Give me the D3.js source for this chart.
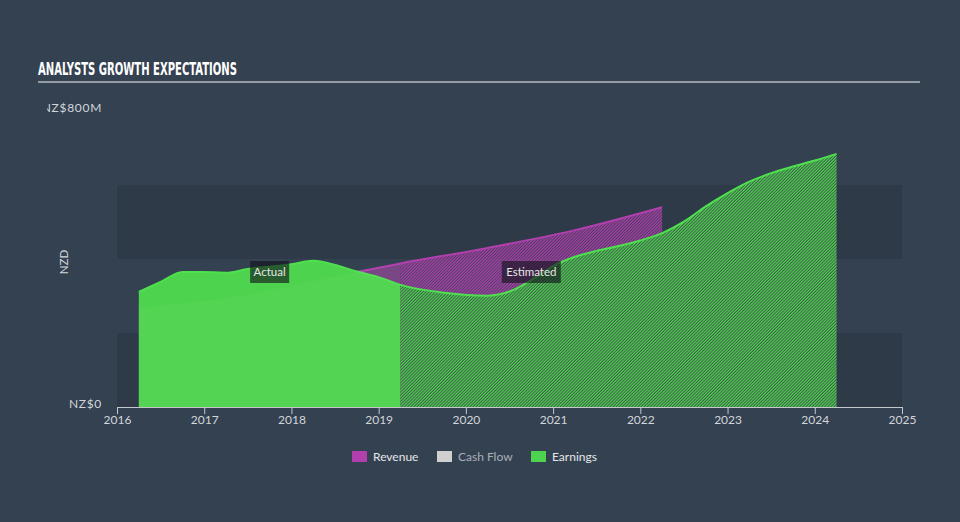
<!DOCTYPE html>
<html>
<head>
<meta charset="utf-8">
<script src="https://cdn.jsdelivr.net/npm/d3@7"></script>
<style>
  html, body { margin: 0; padding: 0; background: #344151; }
  svg { display: block; }
</style>
</head>
<body>
<div id="main"></div>
<script>
// Values (NZ$ millions, decimal years).
const earnYears = [2016.25, 2016.5, 2016.75, 2017.0, 2017.25, 2017.5, 2017.75, 2018.0, 2018.25, 2018.5, 2018.75, 2019.0, 2019.25,
  2019.75, 2020.25, 2020.5, 2020.75, 2021.0, 2021.25, 2021.5, 2021.75, 2022.0, 2022.25, 2022.5, 2022.75, 2023.0, 2023.25,
  2023.5, 2023.75, 2024.0, 2024.25];
const earnValues = [311, 338, 365, 365, 363, 373, 379, 386, 395, 384, 366, 351, 330,
  309, 301, 312, 343, 381, 406, 422, 435, 450, 470, 501, 542, 578, 609,
  632, 650, 666, 684];
const revYears = [2016.25, 2016.75, 2017.25, 2017.75, 2018.25, 2018.75, 2019.25, 2020.25, 2021.25, 2022.25];
const revValues = [267, 281, 294, 316, 340, 365, 388, 430, 478, 540];
const splitYear = 2019.25; // last reported figure; everything after is estimated
const yearTicks = [2016, 2017, 2018, 2019, 2020, 2021, 2022, 2023, 2024, 2025];
const yTicks = [0, 800];
const legendItems = ["Revenue", "Cash Flow", "Earnings"];

const width = 960;
const height = 522;
const margin = { top: 111, right: 58, bottom: 115, left: 117 };
const innerW = width - margin.left - margin.right;
const innerH = height - margin.top - margin.bottom;

const purple = "#b23fae";
const green = "#4dd34d";
const font = "Lato, 'Open Sans', sans-serif";

const x = d3.scaleLinear().domain([2016, 2025]).range([margin.left, margin.left + innerW]);
const y = d3.scaleLinear().domain([0, 800]).range([margin.top + innerH, margin.top]);

const earnings = earnYears.map((yr, i) => ({ x: yr, v: earnValues[i] }));
const revenue = revYears.map((yr, i) => ({ x: yr, v: revValues[i] }));

const svg = d3.select("div#main").append("svg")
  .attr("width", width)
  .attr("height", height)
  .style("background", "#344151");

const defs = svg.append("defs");

// Hatch patterns for the estimated part.
const hatch = function (id, gap, stripe) {
  const p = defs.append("pattern")
    .attr("id", id)
    .attr("patternUnits", "userSpaceOnUse")
    .attr("width", 2.2)
    .attr("height", 2.2)
    .attr("patternTransform", "rotate(45)");
  p.append("rect").attr("width", 2.2).attr("height", 2.2).attr("fill", gap);
  p.append("line")
    .attr("x1", 0.6).attr("y1", 0).attr("x2", 0.6).attr("y2", 2.2)
    .attr("stroke", stripe).attr("stroke-width", 1.1);
};
hatch("hatchRev", "rgba(178,63,174,0.2)", purple);
hatch("hatchEarn", "#3d5f4b", "#50d850");

const splitX = x(splitYear);
defs.append("clipPath").attr("id", "clipActual")
  .append("rect").attr("x", 0).attr("y", 0).attr("width", splitX).attr("height", height);
defs.append("clipPath").attr("id", "clipEst")
  .append("rect").attr("x", splitX).attr("y", 0).attr("width", width - splitX).attr("height", height);
defs.append("clipPath").attr("id", "clipLabel")
  .append("rect").attr("x", 47).attr("y", 0).attr("width", width).attr("height", height);

// Alternating horizontal bands (every 200M).
const bandStep = 200;
[0, 400].forEach(function (b) {
  svg.append("rect")
    .attr("x", x(2016))
    .attr("y", y(b + bandStep))
    .attr("width", x(2025) - x(2016))
    .attr("height", y(b) - y(b + bandStep))
    .attr("fill", "#2f3a49");
});

const area = d3.area()
  .x(d => x(d.x))
  .y0(y(0))
  .y1(d => y(d.v))
  .curve(d3.curveMonotoneX);
const line = d3.line()
  .x(d => x(d.x))
  .y(d => y(d.v))
  .curve(d3.curveMonotoneX);

// Revenue.
svg.append("path").datum(revenue)
  .attr("d", area)
  .attr("clip-path", "url(#clipActual)")
  .attr("fill", purple)
  .attr("fill-opacity", 0.5);
svg.append("path").datum(revenue)
  .attr("d", area)
  .attr("clip-path", "url(#clipEst)")
  .attr("fill", "url(#hatchRev)");
svg.append("path").datum(revenue)
  .attr("d", line)
  .attr("fill", "none")
  .attr("stroke", purple)
  .attr("stroke-width", 2);

// Earnings.
svg.append("path").datum(earnings)
  .attr("d", area)
  .attr("clip-path", "url(#clipActual)")
  .attr("fill", green);
svg.append("path").datum(earnings)
  .attr("d", area)
  .attr("clip-path", "url(#clipEst)")
  .attr("fill", "url(#hatchEarn)");
svg.append("path").datum(earnings)
  .attr("d", line)
  .attr("fill", "none")
  .attr("stroke", "#4fe04f")
  .attr("stroke-width", 2);

// Faint revenue shape showing through the solid earnings area.
svg.append("path").datum(revenue)
  .attr("d", area)
  .attr("clip-path", "url(#clipActual)")
  .attr("fill", "#ffffff")
  .attr("fill-opacity", 0.04);

// Actual / Estimated tags.
const tag = function (cx, text, w) {
  const cy = 272;
  svg.append("rect")
    .attr("x", cx - w / 2).attr("y", cy - 11)
    .attr("width", w).attr("height", 22)
    .attr("fill", "rgba(18,18,28,0.62)");
  svg.append("text")
    .attr("x", cx).attr("y", cy + 4)
    .attr("text-anchor", "middle")
    .attr("font-family", font)
    .attr("font-size", 11.5)
    .attr("fill", "#e6e6e6")
    .text(text);
};
tag(x(splitYear - 1.5), "Actual", 39);
tag(x(splitYear + 1.5), "Estimated", 59);

// X axis.
const xAxis = svg.append("g")
  .attr("transform", "translate(0," + y(0) + ")")
  .call(d3.axisBottom(x).tickValues(yearTicks).tickFormat(d3.format("d")).tickSize(7).tickSizeOuter(0));
xAxis.select(".domain").attr("stroke", "#c3c8cf").attr("stroke-width", 1.2);
xAxis.selectAll(".tick line").attr("stroke", "#c3c8cf");
xAxis.selectAll(".tick text")
  .attr("font-family", font)
  .attr("font-size", 12)
  .attr("fill", "#d2d6db")
  .attr("dy", "0.95em")
  .attr("y", 6);

// Y labels (the top one is cut off at the left edge, as in the original).
svg.append("g").attr("clip-path", "url(#clipLabel)")
  .selectAll("text").data(yTicks)
  .enter().append("text")
  .attr("x", 102)
  .attr("y", d => y(d) + 1)
  .attr("text-anchor", "end")
  .attr("font-family", font)
  .attr("font-size", 12)
  .attr("letter-spacing", 0.7)
  .attr("fill", "#d2d6db")
  .text(d => d === 0 ? "NZ$0" : "NZ$" + d + "M");
svg.append("text")
  .attr("transform", "translate(68," + (margin.top + innerH / 2 + 3) + ") rotate(-90)")
  .attr("text-anchor", "middle")
  .attr("font-family", font)
  .attr("font-size", 11.5)
  .attr("fill", "#d2d6db")
  .text("NZD");

// Title.
svg.append("text")
  .attr("x", 38).attr("y", 75)
  .attr("font-family", "'Liberation Sans Narrow', 'DejaVu Sans Condensed', sans-serif")
  .attr("font-weight", "bold")
  .attr("font-size", 17)
  .attr("textLength", 199)
  .attr("lengthAdjust", "spacingAndGlyphs")
  .attr("fill", "#ffffff")
  .text("ANALYSTS GROWTH EXPECTATIONS");
svg.append("line")
  .attr("x1", 38).attr("x2", 920)
  .attr("y1", 82).attr("y2", 82)
  .attr("stroke", "#b4bac2")
  .attr("stroke-width", 1.5);

// Legend.
const legendColors = [purple, "#d0d0d0", green];
const legendX = [352, 437, 531];
const legend = svg.append("g").selectAll("g").data(legendItems)
  .enter().append("g")
  .attr("transform", (d, i) => "translate(" + legendX[i] + ",451)");
legend.append("rect")
  .attr("width", 15).attr("height", 11)
  .attr("fill", (d, i) => legendColors[i]);
legend.append("text")
  .attr("x", 21).attr("y", 10)
  .attr("font-family", font)
  .attr("font-size", 12)
  .attr("fill", (d, i) => i === 1 ? "#a9afb7" : "#e4e6e9")
  .text(d => d);
</script>
</body>
</html>
